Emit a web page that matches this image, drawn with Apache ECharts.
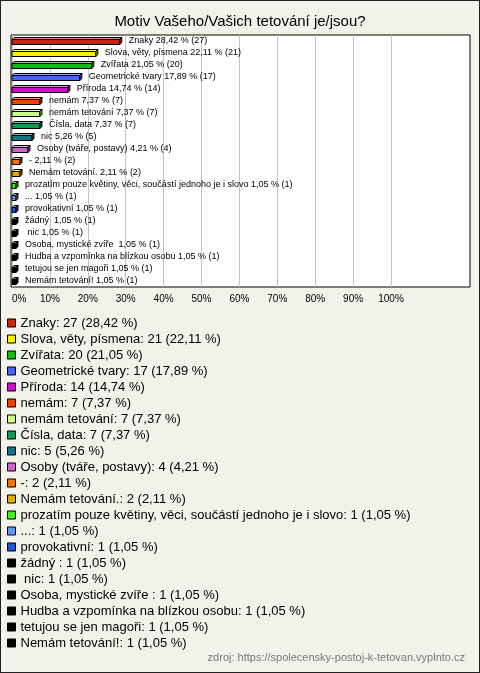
<!DOCTYPE html>
<html>
<head>
<meta charset="utf-8">
<script src="https://cdn.jsdelivr.net/npm/echarts@6/dist/echarts.min.js"></script>
<style>
html,body{margin:0;padding:0;background:#f3f2ea;}
#wrap{position:relative;width:480px;height:673px;}
#chart{width:480px;height:673px;}
#frame{position:absolute;left:0;top:0;width:480px;height:673px;box-sizing:border-box;border:1px solid #222;pointer-events:none;}
</style>
</head>
<body>
<div id="wrap"><div id="chart"></div><div id="frame"></div></div>
<script>
const titleText = 'Motiv Vašeho/Vašich tetování je/jsou?';
const sourceText = 'zdroj: https://spolecensky-postoj-k-tetovan.vyplnto.cz';
const categories = [
  'Znaky', 'Slova, věty, písmena', 'Zvířata', 'Geometrické tvary', 'Příroda',
  'nemám', 'nemám tetování', 'Čísla, data', 'nic', 'Osoby (tváře, postavy)',
  '-', 'Nemám tetování.', 'prozatím pouze květiny, věci, součástí jednoho je i slovo', '...', 'provokativní',
  'žádný ', ' nic', 'Osoba, mystické zvíře ', 'Hudba a vzpomínka na blízkou osobu', 'tetujou se jen magoři', 'Nemám tetování!'
];
const counts = [27, 21, 20, 17, 14, 7, 7, 7, 5, 4, 2, 2, 1, 1, 1, 1, 1, 1, 1, 1, 1];
const percents = [28.42, 22.11, 21.05, 17.89, 14.74, 7.37, 7.37, 7.37, 5.26, 4.21, 2.11, 2.11, 1.05, 1.05, 1.05, 1.05, 1.05, 1.05, 1.05, 1.05, 1.05];
const colors = [
  '#cc2211', '#ffee00', '#11bb11', '#4466ee', '#cc11cc',
  '#ee4400', '#ccff88', '#119955', '#117788', '#cc66cc',
  '#ee7700', '#ddaa00', '#44ee22', '#6699ee', '#2255cc',
  '#000000', '#000000', '#000000', '#000000', '#000000', '#000000'
];
const axisMin = 0, axisMax = 100, axisStep = 10;

const fmt = v => v.toFixed(2).replace('.', ',');
const FONT = '"Liberation Sans", Arial, sans-serif';

function mix(hex, target, t) {
  const n = parseInt(hex.slice(1), 16);
  const r = (n >> 16) & 255, g = (n >> 8) & 255, b = n & 255;
  const m = c => Math.round(c + (target - c) * t);
  return 'rgb(' + m(r) + ',' + m(g) + ',' + m(b) + ')';
}

function renderItem(params, api) {
  const v = api.value(0), idx = api.value(1);
  const end = api.coord([v, idx]);
  const start = api.coord([0, idx]);
  const color = api.visual('color');
  const h = 7, d = 2;
  const yTop = end[1] - h / 2, yBot = end[1] + h / 2;
  const x0 = start[0], x1 = end[0];
  const i = params.seriesIndex;
  const stroke = {stroke: '#000', lineWidth: 1};
  return {
    type: 'group',
    children: [
      {type: 'rect', shape: {x: x0, y: yTop + d, width: Math.max(x1 - x0, 1), height: h - d},
       style: Object.assign({fill: color}, stroke)},
      {type: 'polygon', shape: {points: [[x0, yTop + d], [x0 + d, yTop], [x1 + d, yTop], [x1, yTop + d]]},
       style: Object.assign({fill: mix(color, 255, 0.45)}, stroke)},
      {type: 'polygon', shape: {points: [[x1, yTop + d], [x1 + d, yTop], [x1 + d, yBot - d], [x1, yBot]]},
       style: Object.assign({fill: mix(color, 0, 0.35)}, stroke)},
      {type: 'text', style: {x: x1 + 9, y: end[1], text: categories[i] + ' ' + fmt(percents[i]) + ' % (' + counts[i] + ')',
        fill: '#000', font: '9px ' + FONT, verticalAlign: 'middle', align: 'left'}}
    ]
  };
}

const series = categories.map((name, i) => ({
  name: name,
  type: 'custom',
  xAxisIndex: 0, yAxisIndex: 0,
  itemStyle: {color: colors[i]},
  renderItem: renderItem,
  encode: {x: 0, y: 1},
  data: [[percents[i], i]],
  silent: true,
  clip: false
}));

const chart = echarts.init(document.getElementById('chart'), null, {renderer: 'canvas'});
chart.setOption({
  backgroundColor: '#f3f2ea',
  animation: false,
  title: [
    {text: titleText, left: 'center', top: 9,
     textStyle: {fontFamily: FONT, fontSize: 15, fontWeight: 'normal', color: '#000'}},
    {text: sourceText, right: 10, bottom: 5,
     textStyle: {fontFamily: FONT, fontSize: 11, fontWeight: 'normal', color: '#777'}}
  ],
  grid: [
    {left: 12, top: 35, width: 379, height: 252, containLabel: false},
    {left: 11, top: 35, width: 459, height: 252, show: true, backgroundColor: '#fff', borderColor: '#000', borderWidth: 1}
  ],
  xAxis: [
    {type: 'value', gridIndex: 0, min: axisMin, max: axisMax, interval: axisStep,
     axisLine: {show: false}, axisTick: {show: false},
     splitLine: {show: true, lineStyle: {color: '#c4c4c4', width: 1}},
     axisLabel: {formatter: '{value}%', fontFamily: FONT, fontSize: 10, color: '#000', margin: 7, alignMinLabel: 'left'}},
    {type: 'value', gridIndex: 1, min: 0, max: 1, show: false, splitLine: {show: false}}
  ],
  yAxis: [
    {type: 'category', gridIndex: 0, data: categories, inverse: true, show: false},
    {type: 'value', gridIndex: 1, min: 0, max: 1, show: false, splitLine: {show: false}}
  ],
  legend: {
    orient: 'vertical', left: 7, top: 315, padding: 0, itemGap: 0,
    itemWidth: 8, itemHeight: 8, icon: 'rect',
    itemStyle: {borderColor: '#000', borderWidth: 1},
    selectedMode: false,
    data: categories,
    formatter: name => {
      const i = categories.indexOf(name);
      return name + ': ' + counts[i] + ' (' + fmt(percents[i]) + ' %)';
    },
    textStyle: {fontFamily: FONT, fontSize: 13, color: '#000', lineHeight: 16}
  },
  series: series
});
</script>
</body>
</html>
